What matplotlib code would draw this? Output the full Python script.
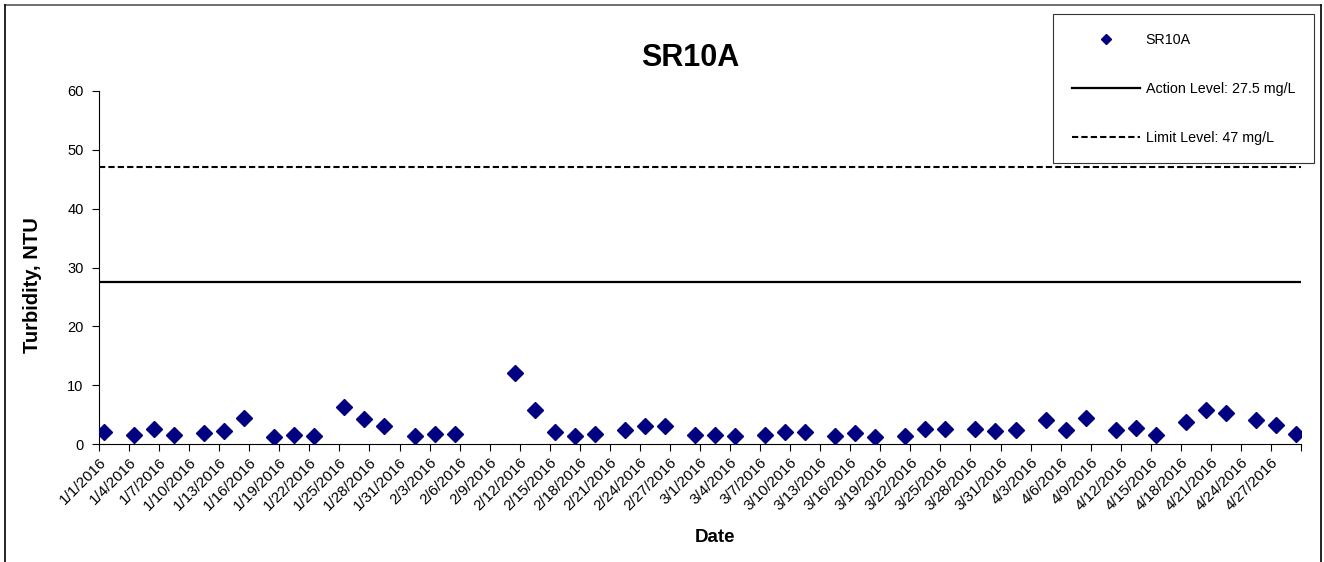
import matplotlib
matplotlib.use("Agg")
import matplotlib.pyplot as plt
from matplotlib.lines import Line2D
import pandas as pd

plt.rcParams["font.family"] = ["Liberation Sans", "DejaVu Sans"]

# sample dates (points sit around midday) and turbidity readings
sample_dates = [
    "2016-01-01", "2016-01-04", "2016-01-06", "2016-01-08", "2016-01-11",
    "2016-01-13", "2016-01-15", "2016-01-18", "2016-01-20", "2016-01-22",
    "2016-01-25", "2016-01-27", "2016-01-29", "2016-02-01", "2016-02-03",
    "2016-02-05", "2016-02-11", "2016-02-13", "2016-02-15", "2016-02-17",
    "2016-02-19", "2016-02-22", "2016-02-24", "2016-02-26", "2016-02-29",
    "2016-03-02", "2016-03-04", "2016-03-07", "2016-03-09", "2016-03-11",
    "2016-03-14", "2016-03-16", "2016-03-18", "2016-03-21", "2016-03-23",
    "2016-03-25", "2016-03-28", "2016-03-30", "2016-04-01", "2016-04-04",
    "2016-04-06", "2016-04-08", "2016-04-11", "2016-04-13", "2016-04-15",
    "2016-04-18", "2016-04-20", "2016-04-22", "2016-04-25", "2016-04-27",
    "2016-04-29",
]
turbidity = [
    2.1, 1.5, 2.55, 1.5, 1.8,
    2.15, 4.4, 1.25, 1.5, 1.35,
    6.3, 4.3, 3.05, 1.35, 1.75,
    1.75, 12.1, 5.7, 2.1, 1.35,
    1.75, 2.3, 3.0, 3.1, 1.5,
    1.5, 1.35, 1.45, 2.0, 2.05,
    1.35, 1.8, 1.15, 1.4, 2.55,
    2.5, 2.5, 2.2, 2.3, 4.15,
    2.3, 4.4, 2.4, 2.8, 1.45,
    3.8, 5.8, 5.2, 4.0, 3.3,
    1.75,
]
action_level = 27.5
limit_level = 47
x_start, x_end = "2016-01-01", "2016-04-30"

dates = pd.to_datetime(sample_dates) + pd.Timedelta(hours=12)
x0, x1 = pd.Timestamp(x_start), pd.Timestamp(x_end)

W, H = 1324, 562
fig = plt.figure(figsize=(W / 100, H / 100), dpi=100)
ax = fig.add_axes([99 / W, 1 - 444 / H, 1202 / W, 353 / H])

ax.plot([x0, x1], [limit_level, limit_level], color="black", lw=1.5,
        ls=(0, (3, 1.5)), label="Limit Level: 47 mg/L", zorder=2)
ax.plot([x0, x1], [action_level, action_level], color="black", lw=1.6,
        label="Action Level: 27.5 mg/L", zorder=2)
ax.plot(dates, turbidity, ls="none", marker="D", ms=8.5, color="#000080",
        markeredgecolor="#000080", label="SR10A", zorder=3)

ax.set_xlim(x0, x1)
ax.set_ylim(0, 60)
ax.set_yticks(range(0, 61, 10))

ticks = pd.date_range(x0, x1, freq="3D")
ax.set_xticks(ticks)
labels = [f"{d.month}/{d.day}/{d.year}" for d in ticks]
labels[-1] = ""
ax.set_xticklabels(labels, rotation=45, ha="right", rotation_mode="anchor",
                   fontsize=11)
ax.tick_params(axis="y", labelsize=10.5, direction="out", length=5, pad=6)
ax.tick_params(axis="x", direction="out", length=5, pad=3)

for s in ("top", "right"):
    ax.spines[s].set_visible(False)

fig.text(690 / W, 1 - 58 / H, "SR10A", fontsize=22, fontweight="bold",
         ha="center", va="center")
fig.text(32 / W, 1 - 285 / H, "Turbidity, NTU", fontsize=14.5,
         fontweight="bold", rotation=90, ha="center", va="center")
fig.text(715 / W, 1 - 537 / H, "Date", fontsize=13.5, fontweight="bold",
         ha="center", va="center")

h, l = ax.get_legend_handles_labels()
order = [2, 1, 0]
leg = fig.legend([h[i] for i in order], [l[i] for i in order],
                 loc="upper left", bbox_to_anchor=(1053 / W, 1 - 14 / H),
                 fontsize=10.3, frameon=True, fancybox=False, edgecolor="black",
                 handlelength=4.75, labelspacing=2.45, borderpad=1.3,
                 markerscale=0.6, handletextpad=0.42, borderaxespad=0)
leg.get_frame().set_linewidth(0.8)

# outer chart border (cropped at bottom)
fig.add_artist(Line2D([5 / W, 1321 / W], [1 - 5 / H, 1 - 5 / H],
                      color="#555555", lw=1.2))
fig.add_artist(Line2D([5 / W, 5 / W], [0, 1 - 5 / H], color="black", lw=1.2))
fig.add_artist(Line2D([1321 / W, 1321 / W], [0, 1 - 5 / H],
                      color="black", lw=1.2))

fig.savefig("out.png", dpi=100)
